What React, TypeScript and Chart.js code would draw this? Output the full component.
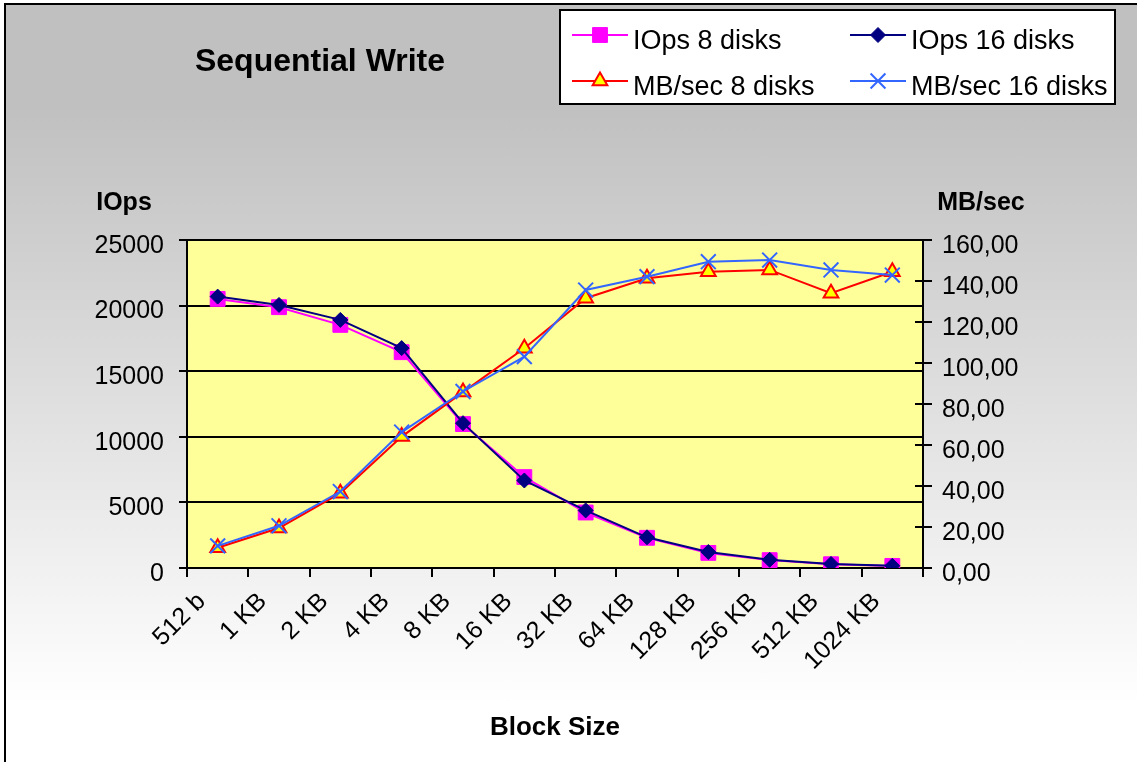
import React, { useEffect, useRef } from 'react';
import { Chart, registerables } from 'chart.js';

Chart.register(...registerables);

const categories = ['512 b', '1 KB', '2 KB', '4 KB', '8 KB', '16 KB', '32 KB', '64 KB', '128 KB', '256 KB', '512 KB', '1024 KB'];
const iops8 = [20510, 19880, 18530, 16450, 10970, 6930, 4230, 2300, 1150, 600, 285, 160];
const iops16 = [20685, 20050, 18910, 16760, 11040, 6670, 4390, 2340, 1220, 625, 310, 170];
const mbs8 = [9.9, 19.5, 36.5, 64.1, 85.8, 107.2, 131.6, 141.3, 144.5, 145.4, 134.0, 144.5];
const mbs16 = [10.8, 20.6, 37.3, 66.3, 86.1, 103.1, 135.6, 142.1, 149.4, 150.2, 145.4, 142.9];
const seriesNames = ['IOps 8 disks', 'IOps 16 disks', 'MB/sec 8 disks', 'MB/sec 16 disks'];
const leftTicks = { min: 0, max: 25000, step: 5000 };
const rightTicks = { min: 0, max: 160, step: 20 };
const chartTitle = 'Sequential Write';
const leftTitle = 'IOps';
const rightTitle = 'MB/sec';
const xTitle = 'Block Size';

const FONT = '"Liberation Sans", Arial, Helvetica, sans-serif';

function drawMarker(ctx: CanvasRenderingContext2D, style: string, x: number, y: number, r: number, fill: string, stroke: string, lw: number) {
  ctx.save();
  ctx.beginPath();
  ctx.lineWidth = lw;
  ctx.strokeStyle = stroke;
  ctx.fillStyle = fill;
  if (style === 'rect') {
    const s = Math.SQRT1_2 * r;
    ctx.rect(x - s, y - s, 2 * s, 2 * s);
    ctx.fill();
    ctx.stroke();
  } else if (style === 'rectRot') {
    ctx.moveTo(x - r, y);
    ctx.lineTo(x, y - r);
    ctx.lineTo(x + r, y);
    ctx.lineTo(x, y + r);
    ctx.closePath();
    ctx.fill();
    ctx.stroke();
  } else if (style === 'triangle') {
    let a = 0;
    ctx.moveTo(x + Math.sin(a) * r, y - Math.cos(a) * r);
    a += (2 * Math.PI) / 3;
    ctx.lineTo(x + Math.sin(a) * r, y - Math.cos(a) * r);
    a += (2 * Math.PI) / 3;
    ctx.lineTo(x + Math.sin(a) * r, y - Math.cos(a) * r);
    ctx.closePath();
    ctx.fill();
    ctx.stroke();
  } else if (style === 'crossRot') {
    const o = Math.cos(Math.PI / 4) * r;
    ctx.moveTo(x - o, y - o);
    ctx.lineTo(x + o, y + o);
    ctx.moveTo(x - o, y + o);
    ctx.lineTo(x + o, y - o);
    ctx.stroke();
  }
  ctx.restore();
}

const plotBgPlugin = {
  id: 'plotBg',
  beforeDraw(chart: any) {
    const { ctx, chartArea } = chart;
    ctx.save();
    ctx.fillStyle = '#FFFF99';
    ctx.fillRect(chartArea.left, chartArea.top, chartArea.right - chartArea.left, chartArea.bottom - chartArea.top);
    ctx.restore();
  },
  beforeDatasetsDraw(chart: any) {
    const { ctx, chartArea } = chart;
    const s = chart.scales.y1;
    ctx.save();
    ctx.strokeStyle = '#000';
    ctx.lineWidth = 2;
    s.ticks.forEach((_t: any, i: number) => {
      const py = Math.round(s.getPixelForTick(i));
      ctx.beginPath();
      ctx.moveTo(chartArea.right - 8, py);
      ctx.lineTo(chartArea.right, py);
      ctx.stroke();
    });
    ctx.restore();
  },
};

const textPlugin = {
  id: 'texts',
  afterDraw(chart: any) {
    const { ctx, chartArea } = chart;
    ctx.save();
    ctx.fillStyle = '#000';
    ctx.textBaseline = 'middle';
    ctx.textAlign = 'center';
    ctx.font = `bold 32px ${FONT}`;
    ctx.fillText(chartTitle, 320, 62);
    ctx.font = `bold 25px ${FONT}`;
    ctx.fillText(leftTitle, chartArea.left - 63, 203);
    ctx.fillText(rightTitle, chartArea.right + 58, 203);
    ctx.font = `bold 26px ${FONT}`;
    ctx.fillText(xTitle, (chartArea.left + chartArea.right) / 2, 728);
    ctx.restore();
  },
};

const legendPlugin = {
  id: 'boxLegend',
  afterDraw(chart: any) {
    const { ctx } = chart;
    ctx.save();
    ctx.fillStyle = '#fff';
    ctx.fillRect(560, 10, 555, 94);
    ctx.strokeStyle = '#000';
    ctx.lineWidth = 2;
    ctx.strokeRect(560, 10, 555, 94);
    const colX = [572, 850];
    const rowY = [35, 81];
    chart.data.datasets.forEach((ds: any, i: number) => {
      const x = colX[i % 2];
      const y = rowY[Math.floor(i / 2)];
      ctx.strokeStyle = ds.borderColor;
      ctx.lineWidth = 2;
      ctx.beginPath();
      ctx.moveTo(x, y);
      ctx.lineTo(x + 56, y);
      ctx.stroke();
      drawMarker(ctx, ds.pointStyle, x + 28, y, ds.pointRadius, ds.pointBackgroundColor, ds.pointBorderColor, ds.pointBorderWidth);
      ctx.fillStyle = '#000';
      ctx.font = `27px ${FONT}`;
      ctx.textAlign = 'left';
      ctx.textBaseline = 'middle';
      ctx.fillText(ds.label, x + 61, y + 7);
    });
    ctx.restore();
  },
};

export default function App() {
  const ref = useRef<HTMLCanvasElement>(null);
  useEffect(() => {
    const canvas = ref.current!;
    const chart = new Chart(canvas, {
      type: 'line',
      data: {
        labels: categories,
        datasets: [
          {
            label: seriesNames[0],
            data: iops8,
            yAxisID: 'y',
            borderColor: '#FF00FF',
            borderWidth: 2,
            pointStyle: 'rect',
            pointRadius: 10.5,
            pointBackgroundColor: '#FF00FF',
            pointBorderColor: '#FF00FF',
            pointBorderWidth: 1,
            tension: 0,
            order: 3,
          },
          {
            label: seriesNames[1],
            data: iops16,
            yAxisID: 'y',
            borderColor: '#000080',
            borderWidth: 2,
            pointStyle: 'rectRot',
            pointRadius: 7.5,
            pointBackgroundColor: '#000080',
            pointBorderColor: '#000080',
            pointBorderWidth: 1,
            tension: 0,
            order: 2,
          },
          {
            label: seriesNames[2],
            data: mbs8,
            yAxisID: 'y1',
            borderColor: '#FF0000',
            borderWidth: 2,
            pointStyle: 'triangle',
            pointRadius: 8.5,
            pointBackgroundColor: '#FFFF00',
            pointBorderColor: '#FF0000',
            pointBorderWidth: 2,
            tension: 0,
            order: 1,
          },
          {
            label: seriesNames[3],
            data: mbs16,
            yAxisID: 'y1',
            borderColor: '#3366FF',
            borderWidth: 2,
            pointStyle: 'crossRot',
            pointRadius: 10.5,
            pointBackgroundColor: '#3366FF',
            pointBorderColor: '#3366FF',
            pointBorderWidth: 2,
            tension: 0,
            order: 0,
          },
        ] as any,
      },
      options: {
        animation: false,
        responsive: false,
        devicePixelRatio: 1,
        layout: { padding: { top: 240, left: 0, right: 0, bottom: 0 } },
        plugins: { legend: { display: false }, title: { display: false }, tooltip: { enabled: false } },
        scales: {
          x: {
            type: 'category',
            offset: true,
            grid: { offset: true, drawOnChartArea: false, drawTicks: true, tickLength: 9, color: '#000', lineWidth: 2 },
            border: { display: true, color: '#000', width: 2 },
            ticks: {
              autoSkip: false,
              minRotation: 45,
              maxRotation: 45,
              padding: 10,
              labelOffset: -16,
              color: '#000',
              font: { family: FONT, size: 25 },
            },
            afterFit: (s: any) => { s.height = 194; },
          },
          y: {
            position: 'left',
            min: leftTicks.min,
            max: leftTicks.max,
            grid: { drawOnChartArea: true, drawTicks: true, tickLength: 8, color: '#000', lineWidth: 2 },
            border: { display: true, color: '#000', width: 2 },
            ticks: {
              stepSize: leftTicks.step,
              padding: 15,
              labelOffset: 6,
              color: '#000',
              font: { family: FONT, size: 25 },
              callback: (v: any) => String(v),
            },
            afterFit: (s: any) => { s.width = 187; },
          },
          y1: {
            position: 'right',
            min: rightTicks.min,
            max: rightTicks.max,
            grid: { drawOnChartArea: false, drawTicks: true, tickLength: 9, color: '#000', lineWidth: 2 },
            border: { display: true, color: '#000', width: 2 },
            ticks: {
              stepSize: rightTicks.step,
              padding: 10,
              labelOffset: 6,
              color: '#000',
              font: { family: FONT, size: 25 },
              callback: (v: any) => Number(v).toFixed(2).replace('.', ','),
            },
            afterFit: (s: any) => { s.width = 214; },
          },
        },
      } as any,
      plugins: [plotBgPlugin, textPlugin, legendPlugin],
    });
    return () => chart.destroy();
  }, []);

  return (
    <div style={{ position: 'absolute', left: 0, top: 0, width: 1137, height: 762, overflow: 'hidden' }}>
      <div
        style={{
          position: 'absolute',
          left: 4,
          top: 3,
          width: 1200,
          height: 800,
          borderTop: '2px solid #000',
          borderLeft: '2px solid #000',
          background: 'linear-gradient(to bottom, #c0c0c0 0px, #c0c0c0 100px, #ffffff 700px)',
        }}
      />
      <canvas ref={ref} width={1137} height={762} style={{ position: 'absolute', left: 0, top: 0, width: 1137, height: 762 }} />
    </div>
  );
}
